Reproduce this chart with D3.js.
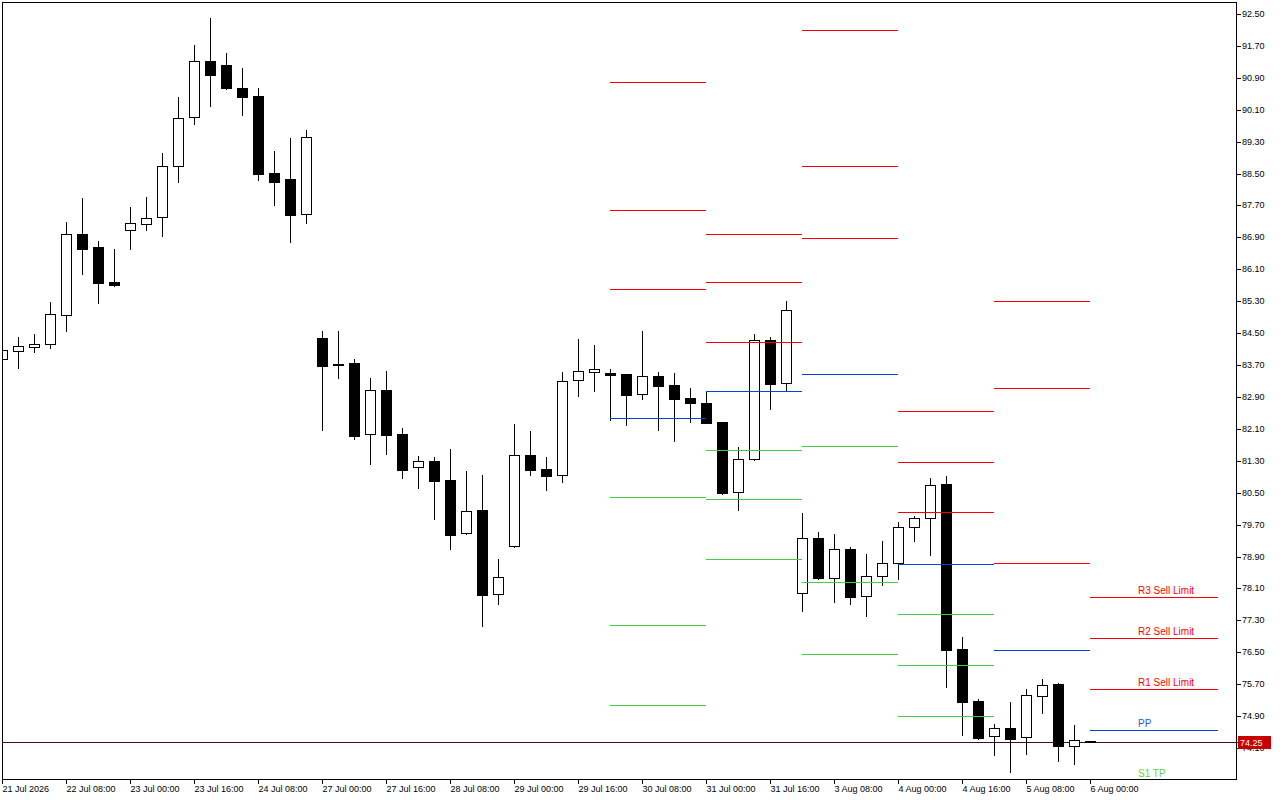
<!DOCTYPE html>
<html><head><meta charset="utf-8">
<script src="https://cdn.jsdelivr.net/npm/d3@7"></script>
<style>html,body{margin:0;padding:0;background:#fff;overflow:hidden;} svg{display:block;}</style>
</head><body><svg id="c" width="1280" height="800"></svg>
<script>
// ---------- DATA ----------
const barTimes = [
 "21 Jul 16:00","21 Jul 20:00","22 Jul 00:00","22 Jul 04:00","22 Jul 08:00","22 Jul 12:00","22 Jul 16:00","22 Jul 20:00",
 "23 Jul 00:00","23 Jul 04:00","23 Jul 08:00","23 Jul 12:00","23 Jul 16:00","23 Jul 20:00",
 "24 Jul 00:00","24 Jul 04:00","24 Jul 08:00","24 Jul 12:00","24 Jul 16:00","24 Jul 20:00",
 "27 Jul 00:00","27 Jul 04:00","27 Jul 08:00","27 Jul 12:00","27 Jul 16:00","27 Jul 20:00",
 "28 Jul 00:00","28 Jul 04:00","28 Jul 08:00","28 Jul 12:00","28 Jul 16:00","28 Jul 20:00",
 "29 Jul 00:00","29 Jul 04:00","29 Jul 08:00","29 Jul 12:00","29 Jul 16:00","29 Jul 20:00",
 "30 Jul 00:00","30 Jul 04:00","30 Jul 08:00","30 Jul 12:00","30 Jul 16:00","30 Jul 20:00",
 "31 Jul 00:00","31 Jul 04:00","31 Jul 08:00","31 Jul 12:00","31 Jul 16:00","31 Jul 20:00",
 "3 Aug 00:00","3 Aug 04:00","3 Aug 08:00","3 Aug 12:00","3 Aug 16:00","3 Aug 20:00",
 "4 Aug 00:00","4 Aug 04:00","4 Aug 08:00","4 Aug 12:00","4 Aug 16:00","4 Aug 20:00",
 "5 Aug 00:00","5 Aug 04:00","5 Aug 08:00","5 Aug 12:00","5 Aug 16:00","5 Aug 20:00",
 "6 Aug 00:00"
];
const openP  = [83.85,84.04,84.14,84.22,84.95,86.98,86.66,85.78,87.08,87.23,87.40,88.68,89.91,91.31,91.21,90.64,90.44,88.51,88.36,87.48,
 84.38,83.73,83.75,81.96,83.07,81.97,81.14,81.29,80.82,79.48,80.07,77.95,79.16,81.44,81.09,80.94,83.32,83.53,
 83.50,83.47,82.97,83.42,83.19,82.87,82.75,82.27,80.51,81.34,84.32,83.24,
 77.98,79.36,78.35,79.08,77.90,78.40,78.73,79.63,79.86,80.72,76.58,75.28,74.41,74.59,74.37,75.41,75.70,74.14,74.27];
const highP  = [84.10,84.40,84.48,85.28,87.29,87.89,86.81,86.61,87.66,87.91,89.02,90.42,91.72,92.40,91.52,91.15,90.65,89.07,89.39,89.59,
 84.55,84.55,83.85,83.38,83.55,82.12,81.42,81.39,81.60,81.04,80.94,78.84,82.21,82.05,81.39,83.53,84.35,84.20,
 83.59,83.47,84.55,83.53,83.50,83.12,83.04,82.28,81.65,84.48,84.40,85.30,
 79.99,79.51,79.46,79.14,78.96,79.29,79.77,79.92,80.86,80.92,76.88,75.33,74.70,75.25,75.58,75.83,75.72,74.68,74.28];
const lowP   = [83.83,83.63,84.03,84.13,84.56,85.99,85.26,85.69,86.62,87.09,86.94,88.30,89.75,90.20,90.63,89.98,88.35,87.72,86.79,87.27,
 82.08,83.38,81.85,81.23,81.48,80.88,80.63,79.85,79.10,79.46,77.15,77.70,79.14,80.94,80.58,80.78,82.93,83.06,
 82.32,82.20,82.86,82.08,81.80,82.28,82.24,80.47,80.07,81.31,82.61,83.06,
 77.54,78.34,77.77,77.72,77.42,78.19,78.34,79.30,78.95,75.64,74.43,74.33,73.92,73.51,73.96,74.98,73.78,73.71,74.24];
const closeP = [84.08,84.17,84.22,84.97,86.98,86.62,85.76,85.71,87.25,87.38,88.68,89.89,91.31,90.98,90.65,90.43,88.50,88.30,87.47,89.42,
 83.68,83.69,81.93,83.07,81.95,81.08,81.29,80.80,79.45,80.04,77.94,78.38,81.44,81.08,80.93,83.29,83.54,83.59,
 83.45,82.96,83.42,83.18,82.86,82.76,82.25,80.50,81.34,84.32,83.23,85.07,
 79.36,78.37,79.08,77.89,78.40,78.73,79.63,79.86,80.69,76.56,75.26,74.36,74.59,74.33,75.42,75.67,74.16,74.29,74.25];

const yTickValues = [92.50,91.70,90.90,90.10,89.30,88.50,87.70,86.90,86.10,85.30,84.50,83.70,82.90,82.10,81.30,80.50,79.70,78.90,78.10,77.30,76.50,75.70,74.90,74.10];
const xTickTimes  = ["21 Jul 16:00","22 Jul 08:00","23 Jul 00:00","23 Jul 16:00","24 Jul 08:00","27 Jul 00:00","27 Jul 16:00","28 Jul 08:00","29 Jul 00:00","29 Jul 16:00","30 Jul 08:00","31 Jul 00:00","31 Jul 16:00","3 Aug 08:00","4 Aug 00:00","4 Aug 16:00","5 Aug 08:00","6 Aug 00:00"];
const xTickLabels = ["21 Jul 2026","22 Jul 08:00","23 Jul 00:00","23 Jul 16:00","24 Jul 08:00","27 Jul 00:00","27 Jul 16:00","28 Jul 08:00","29 Jul 00:00","29 Jul 16:00","30 Jul 08:00","31 Jul 00:00","31 Jul 16:00","3 Aug 08:00","4 Aug 00:00","4 Aug 16:00","5 Aug 08:00","6 Aug 00:00"];

const pivotDays = ["30 Jul","31 Jul","3 Aug","4 Aug","5 Aug","6 Aug"];
const pivotR3 = [90.79, 86.98, 92.09, 82.54, 85.30, 77.88];
const pivotR2 = [87.58, 85.77, 88.68, 81.26, 83.12, 76.85];
const pivotR1 = [85.61, 84.27, 86.88, 80.01, 78.73, 75.57];
const pivotPP = [82.37, 83.05, 83.47, 78.71, 76.55, 74.54];
const pivotS1 = [80.38, 81.56, 81.66, 77.45, 72.18, 73.30];
const pivotS2 = [77.18, 80.33, 78.25, 76.17, null, null];
const pivotS3 = [75.17, 78.83, 76.45, 74.89, null, null];
const lastDayLabels = {R3:"R3 Sell Limit", R2:"R2 Sell Limit", R1:"R1 Sell Limit", PP:"PP", S1:"S1 TP"};
const currentPrice = 74.25;

// ---------- LAYOUT / STYLE ----------
const FONT = "'Liberation Sans', Arial, sans-serif";
const plot = {l:2, t:2, r:1236, b:779};
const barPx = 16, visibleBars = 77;
const projectBars = 8;
const RED = "#ff0000", BLUE = "#0046d8", GREEN = "#3fcf3f";

const svg = d3.select("#c");
svg.append("rect").attr("width",1280).attr("height",800).attr("fill","#fff");

const x = d3.scaleLinear().domain([0, visibleBars]).range([plot.l, plot.l + barPx*visibleBars]).interpolate(d3.interpolateRound);
const y = d3.scaleLinear().domain([74.10, 92.50]).range([748, 14]).interpolate(d3.interpolateRound);

svg.append("defs").append("clipPath").attr("id","clipP")
  .append("rect").attr("x",plot.l+1).attr("y",plot.t+1).attr("width",plot.r-plot.l-1).attr("height",plot.b-plot.t-1);
const g = svg.append("g").attr("clip-path","url(#clipP)");

// current price line (behind candles)
g.append("line").attr("x1",plot.l).attr("x2",plot.r)
  .attr("y1",y(currentPrice)+0.5).attr("y2",y(currentPrice)+0.5)
  .attr("stroke","#4a1010").attr("stroke-width",1);

// candles
const bars = barTimes.map((t,i)=>({i, t, o:openP[i], h:highP[i], l:lowP[i], c:closeP[i]}));
const cg = g.append("g");
cg.selectAll("line.wick").data(bars).join("line").attr("class","wick")
  .attr("x1",d=>x(d.i)+0.5).attr("x2",d=>x(d.i)+0.5)
  .attr("y1",d=>y(d.h)).attr("y2",d=>y(d.l)+1)
  .attr("stroke","#000").attr("stroke-width",1);
cg.selectAll("rect.body").data(bars).join("rect").attr("class","body")
  .attr("x",d=>x(d.i)-4.5).attr("width",10)
  .attr("y",d=>y(Math.max(d.o,d.c))+0.5)
  .attr("height",d=>Math.max(1, y(Math.min(d.o,d.c)) - y(Math.max(d.o,d.c))))
  .attr("fill",d=>d.c>=d.o ? "#fff" : "#000")
  .attr("stroke","#000").attr("stroke-width",1);

// pivot levels
const levelDefs = [
  {key:"R3", vals:pivotR3, color:RED},
  {key:"R2", vals:pivotR2, color:RED},
  {key:"R1", vals:pivotR1, color:RED},
  {key:"PP", vals:pivotPP, color:BLUE},
  {key:"S1", vals:pivotS1, color:GREEN},
  {key:"S2", vals:pivotS2, color:GREEN},
  {key:"S3", vals:pivotS3, color:GREEN}
];
const dayStart = pivotDays.map(d => barTimes.findIndex(t => t.startsWith(d + " ")));
const dayEnd = dayStart.map((s,k) => k < dayStart.length-1 ? dayStart[k+1] : s + projectBars);
const segs = [];
pivotDays.forEach((d,k)=>{
  levelDefs.forEach(L=>{
    const v = L.vals[k];
    if (v != null) segs.push({k, key:L.key, v, color:L.color});
  });
});
const pg = g.append("g");
pg.selectAll("line").data(segs).join("line")
  .attr("x1",d=>x(dayStart[d.k])).attr("x2",d=>x(dayEnd[d.k]))
  .attr("y1",d=>y(d.v)+0.5).attr("y2",d=>y(d.v)+0.5)
  .attr("stroke",d=>d.color).attr("stroke-width",1);

const lastK = pivotDays.length-1;
const labColor = {R3:RED, R2:RED, R1:RED, PP:"#2b58d0", S1:"#6ccf3a"};
pg.selectAll("text").data(segs.filter(s=>s.k===lastK && lastDayLabels[s.key]))
  .join("text")
  .attr("x", x(dayStart[lastK]+3))
  .attr("y", d=>y(d.v)-3)
  .attr("font-family",FONT).attr("font-size","10px")
  .attr("fill",d=>labColor[d.key])
  .text(d=>lastDayLabels[d.key]);

// frame
svg.append("rect").attr("x",plot.l+0.5).attr("y",plot.t+0.5)
  .attr("width",plot.r-plot.l).attr("height",plot.b-plot.t)
  .attr("fill","none").attr("stroke","#000").attr("stroke-width",1);

// y axis (right)
const yAxis = d3.axisRight(y).tickValues(yTickValues).tickFormat(d3.format(".2f")).tickSize(4).tickPadding(1);
const ya = svg.append("g").attr("transform",`translate(${plot.r+1},0)`).call(yAxis);
ya.select(".domain").remove();
ya.selectAll("line").attr("stroke","#000");
ya.selectAll("text").attr("font-family",FONT).attr("font-size","9px").attr("fill","#000");

// x axis (bottom)
const tickIdx = xTickTimes.map(t => barTimes.indexOf(t));
const xAxis = d3.axisBottom(x).tickValues(tickIdx).tickFormat((d,i)=>xTickLabels[i]).tickSize(4).tickPadding(2);
const xa = svg.append("g").attr("transform",`translate(0,${plot.b+1})`).call(xAxis);
xa.select(".domain").remove();
xa.selectAll("line").attr("stroke","#000");
xa.selectAll("text").attr("font-family",FONT).attr("font-size","9px").attr("fill","#000")
  .attr("text-anchor","start").attr("x",0);

// current price tag
const cpY = y(currentPrice);
svg.append("line").attr("x1",plot.r+1).attr("x2",plot.r+5).attr("y1",cpY+0.5).attr("y2",cpY+0.5).attr("stroke","#c00000");
svg.append("rect").attr("x",plot.r+2).attr("y",cpY-6).attr("width",33).attr("height",13).attr("fill","#c80000");
svg.append("text").attr("x",plot.r+4).attr("y",cpY+0.5).attr("dy","0.35em")
  .attr("font-family",FONT).attr("font-size","9px").attr("fill","#fff").text(d3.format(".2f")(currentPrice));
</script>
</body></html>
